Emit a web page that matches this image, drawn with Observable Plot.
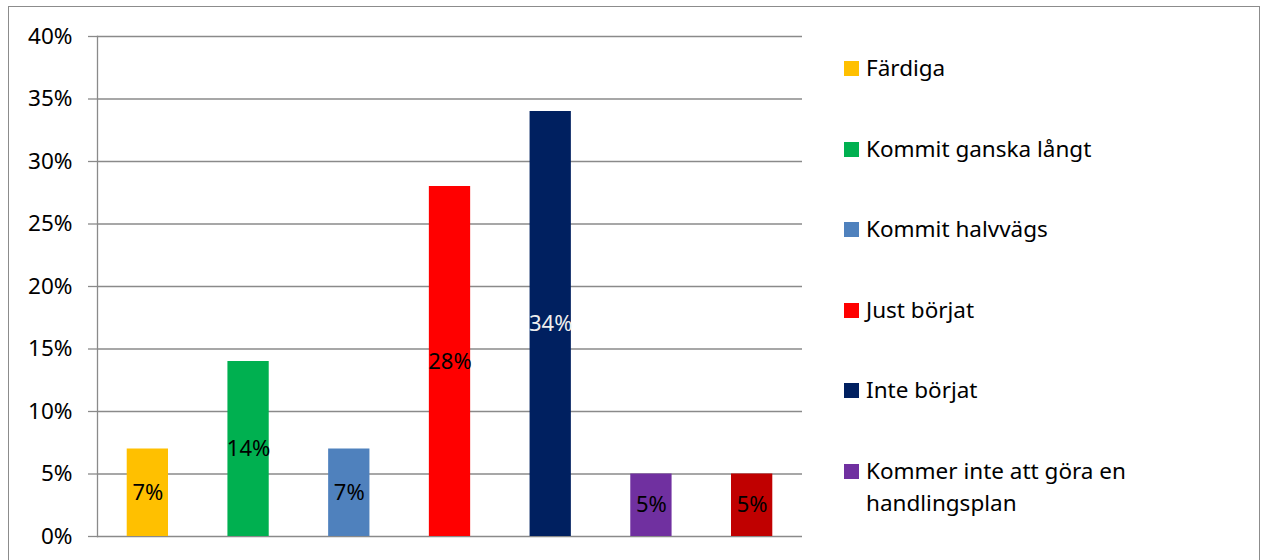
<!DOCTYPE html>
<html><head><meta charset="utf-8">
<script src="https://cdn.jsdelivr.net/npm/d3@7"></script>
<script src="https://cdn.jsdelivr.net/npm/@observablehq/plot@0.6"></script>
<style>
html,body{margin:0;padding:0;background:#fff;}
#wrap{position:relative;width:1265px;height:560px;overflow:hidden;font-family:"Noto Sans",sans-serif;}
#border{position:absolute;left:8px;top:6px;width:1252px;height:600px;border:1px solid #8c8c8c;box-sizing:border-box;}
#chart{position:absolute;left:0;top:0;}
.lg{position:absolute;left:844px;font-size:22.5px;color:#000;line-height:32px;display:flex;align-items:flex-start;}
.sw{width:15px;height:15px;margin-top:9px;margin-right:7px;flex:none;}
</style></head>
<body><div id="wrap"><div id="border"></div><div id="chart"></div><div id="legend"></div></div>
<script>
const categories = ["Färdiga","Kommit ganska långt","Kommit halvvägs","Just börjat","Inte börjat","Kommer inte att göra en handlingsplan",""];
const values = [0.07,0.14,0.07,0.28,0.34,0.05,0.05];
const colors = ["#FFC000","#00B050","#4F81BD","#FF0000","#002060","#7030A0","#C00000"];
const labelColors = ["#000","#000","#000","#000","#eeeeee","#000","#000"];
const yTicks = [0,0.05,0.10,0.15,0.20,0.25,0.30,0.35,0.40];

const data = categories.map((c,i)=>({key:i, cat:c, v:values[i], color:colors[i], lc:labelColors[i]}));

const plot = Plot.plot({
  width:1265, height:560,
  marginLeft:97, marginRight:463, marginTop:36, marginBottom:24,
  style:{fontFamily:"Noto Sans, sans-serif", background:"transparent"},
  x:{type:"band", domain:data.map(d=>d.key), paddingInner:0.59, paddingOuter:0.295, round:false, axis:null},
  y:{domain:[0,0.4], ticks:yTicks},
  marks:[
    Plot.ruleY(yTicks,{stroke:"#8a8a8a", strokeWidth:1.3}),
    Plot.axisY({ticks:yTicks, tickFormat:d3.format(".0%"), tickSize:9, tickPadding:16, fontSize:22.5, stroke:"#8a8a8a", strokeWidth:1.3, strokeOpacity:1, color:"#000", label:null}),
    Plot.frame({anchor:"left", stroke:"#8a8a8a", strokeWidth:1.3, strokeOpacity:1}),
    Plot.barY(data,{x:"key", y:"v", fill:d=>d.color}),
    Plot.text(data,{x:"key", y:d=>d.v/2, text:d=>d3.format(".0%")(d.v), fill:d=>d.lc, fontSize:22})
  ]
});
document.getElementById("chart").appendChild(plot);

const legend = document.getElementById("legend");
data.filter(d=>d.cat!=="").forEach((d,i)=>{
  const el = document.createElement("div");
  el.className="lg";
  el.style.top = (68 + i*80.5 - 16) + "px";
  el.style.width = "300px";
  el.innerHTML = `<div class="sw" style="background:${d.color}"></div><div>${d.cat}</div>`;
  legend.appendChild(el);
});
</script></body></html>
